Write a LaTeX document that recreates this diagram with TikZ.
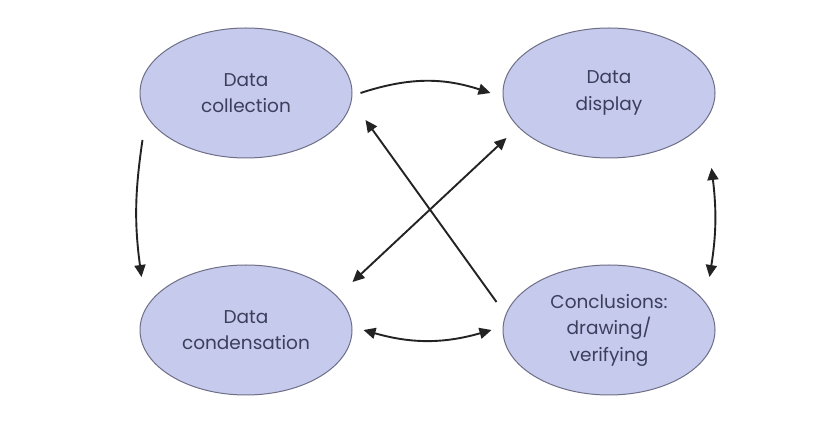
\documentclass[tikz,border=0pt]{standalone}
\usepackage{fontspec}
\setmainfont{Poppins}
\usetikzlibrary{shapes.geometric,arrows.meta}
\definecolor{ellfill}{RGB}{198,202,236}
\definecolor{elldraw}{RGB}{110,110,135}
\definecolor{elltext}{RGB}{60,62,92}
\definecolor{arrowcol}{RGB}{35,35,35}
\begin{document}
\begin{tikzpicture}[x=1pt,y=1pt,
  stage/.style={ellipse, draw=elldraw, line width=1pt, fill=ellfill,
    minimum width=212pt, minimum height=130pt, inner sep=0pt,
    align=center, text=elltext, font=\fontsize{18.5}{26.5}\selectfont},
  flow/.style={draw=arrowcol, line width=1.9pt,
    -{Triangle[length=12pt,width=11pt]}},
  twoway/.style={draw=arrowcol, line width=1.9pt,
    {Triangle[length=12pt,width=11pt]}-{Triangle[length=12pt,width=11pt]}}]
\fill[white] (0,0) rectangle (816,425);
\useasboundingbox (0,0) rectangle (816,425);
\node[stage] (col) at (246,332) {Data\\collection};
\node[stage] (dis) at (609,332) {Data\\display};
\node[stage] (con) at (246,95) {Data\\condensation};
\node[stage] (ccl) at (609,95) {Conclusions:\\drawing/\\verifying};
% top
\draw[flow] ([xshift=8pt]col.east) to[bend left=18] ([xshift=-12pt]dis.west);
% bottom
\draw[twoway] ([xshift=11pt]con.east) to[bend right=16] ([xshift=-11pt]ccl.west);
% left
\draw[flow] ([shift={(3pt,-47pt)}]col.west) to[bend right=8] ([shift={(2pt,53pt)}]con.west);
% right
\draw[twoway] ([shift={(-4pt,-75pt)}]dis.east) to[bend left=8] ([shift={(-6pt,53pt)}]ccl.east);
% diagonals
\draw[flow] ([shift={(-6pt,28pt)}]ccl.west) -- ([shift={(13pt,-27pt)}]col.east);
\draw[twoway] ([shift={(4pt,-45pt)}]dis.west) -- ([shift={(0pt,48pt)}]con.east);
\end{tikzpicture}
\end{document}
